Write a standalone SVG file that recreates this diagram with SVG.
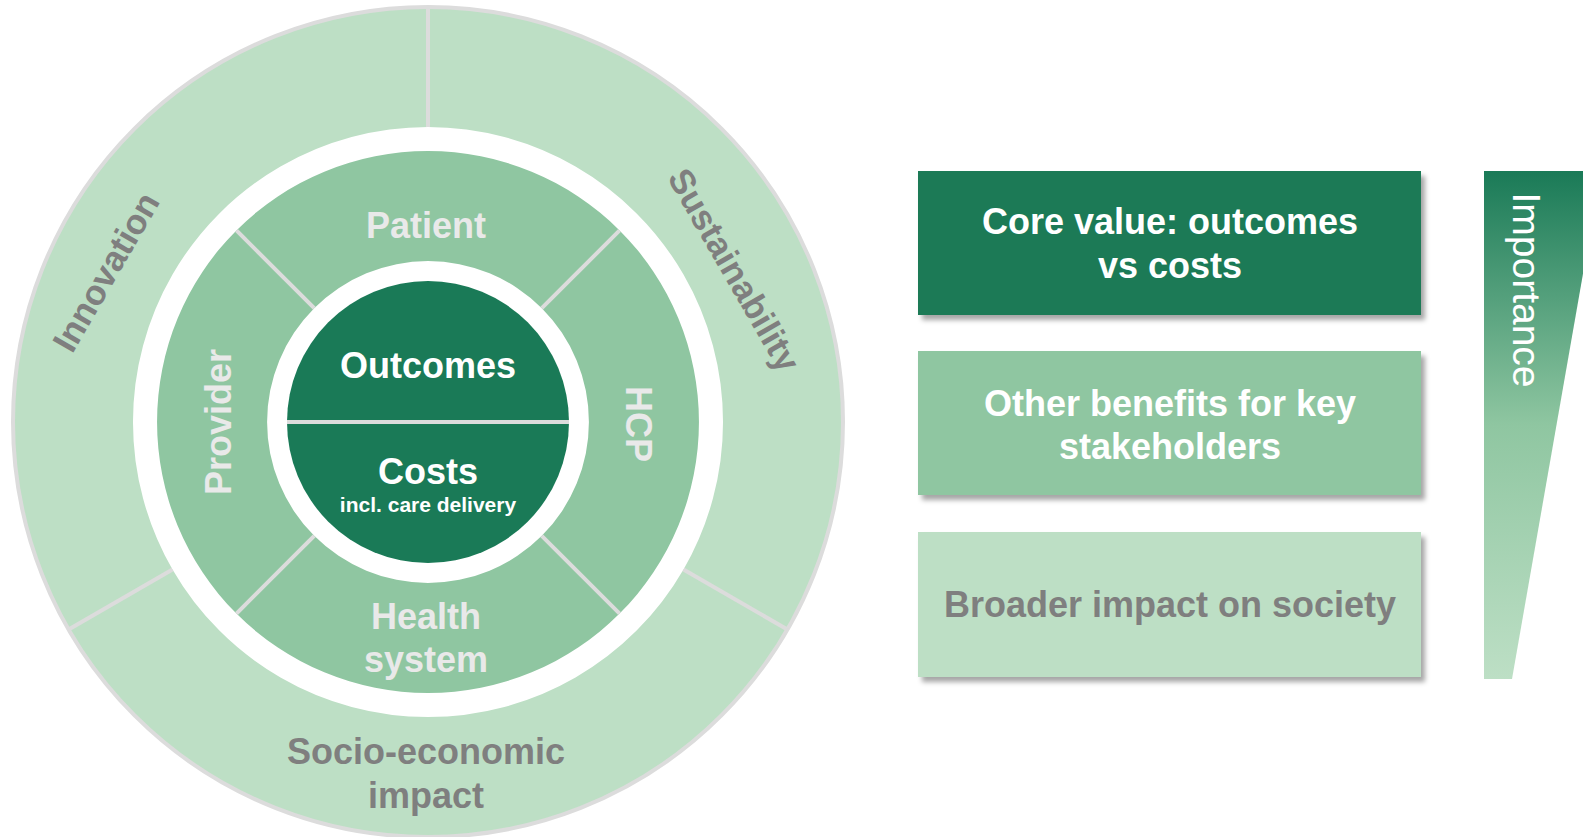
<svg xmlns="http://www.w3.org/2000/svg" width="1583" height="837" viewBox="0 0 1583 837">
  <style>
    .t { font-family: "Liberation Sans", Arial, sans-serif; font-weight: bold; text-anchor: middle; }
    .outerTxt { fill: #7f7f7f; font-size: 36px; }
    .midTxt { fill: #e9e9e9; font-size: 36px; }
    .coreTxt { fill: #ffffff; font-size: 36px; }
    .outerRing { fill: #bddfc5; }
    .midRing { fill: #8fc6a1; }
    .core { fill: #1a7a57; }
    .div { stroke: #dcdcdc; stroke-width: 4; fill: none; }
    .box1 { fill: #1a7a57; }
    .box2 { fill: #8fc6a1; }
    .box3 { fill: #bddfc5; }
  </style>
  <defs>
    <filter id="shadow" x="-5%" y="-10%" width="115%" height="130%">
      <feDropShadow dx="4" dy="5" stdDeviation="2.5" flood-color="#000000" flood-opacity="0.35"/>
    </filter>
    <linearGradient id="wedgeGrad" gradientUnits="userSpaceOnUse" x1="0" y1="171" x2="0" y2="679">
      <stop offset="0" stop-color="#1a7a57"/>
      <stop offset="0.5" stop-color="#8fc6a1"/>
      <stop offset="1" stop-color="#bddfc5"/>
    </linearGradient>
  </defs>
  <rect width="1583" height="837" fill="#ffffff"/>

  <!-- Outer ring -->
  <g id="sustainability">
    <path class="outerRing" d="M 428 7 A 415 415 0 0 1 787.4 629.5 L 683.5 569.5 A 295 295 0 0 0 428 127 Z"/>
    <text class="t outerTxt" style="font-size:35px" transform="translate(734,270) rotate(60)" y="12">Sustainability</text>
  </g>
  <g id="socio-economic">
    <path class="outerRing" d="M 787.4 629.5 A 415 415 0 0 1 68.6 629.5 L 172.5 569.5 A 295 295 0 0 0 683.5 569.5 Z"/>
    <text class="t outerTxt" x="426" y="764">Socio-economic</text>
    <text class="t outerTxt" x="426" y="808">impact</text>
  </g>
  <g id="innovation">
    <path class="outerRing" d="M 68.6 629.5 A 415 415 0 0 1 428 7 L 428 127 A 295 295 0 0 0 172.5 569.5 Z"/>
    <text class="t outerTxt" style="font-size:35px" transform="translate(106,272) rotate(-60)" y="12">Innovation</text>
  </g>

  <!-- Middle ring -->
  <g id="patient">
    <path class="midRing" d="M 236.4 230.4 A 271 271 0 0 1 619.6 230.4 L 541.8 308.2 A 161 161 0 0 0 314.2 308.2 Z"/>
    <text class="t midTxt" x="426" y="238">Patient</text>
  </g>
  <g id="hcp">
    <path class="midRing" d="M 619.6 230.4 A 271 271 0 0 1 619.6 613.6 L 541.8 535.8 A 161 161 0 0 0 541.8 308.2 Z"/>
    <text class="t midTxt" transform="translate(626,424) rotate(90)" y="0">HCP</text>
  </g>
  <g id="health-system">
    <path class="midRing" d="M 619.6 613.6 A 271 271 0 0 1 236.4 613.6 L 314.2 535.8 A 161 161 0 0 0 541.8 535.8 Z"/>
    <text class="t midTxt" x="426" y="629">Health</text>
    <text class="t midTxt" x="426" y="672">system</text>
  </g>
  <g id="provider">
    <path class="midRing" d="M 236.4 613.6 A 271 271 0 0 1 236.4 230.4 L 314.2 308.2 A 161 161 0 0 0 314.2 535.8 Z"/>
    <text class="t midTxt" transform="translate(231,422) rotate(-90)" y="0">Provider</text>
  </g>

  <!-- Core -->
  <g id="outcomes">
    <path class="core" d="M 287 422 A 141 141 0 0 1 569 422 Z"/>
    <text class="t coreTxt" x="428" y="378">Outcomes</text>
  </g>
  <g id="costs">
    <path class="core" d="M 569 422 A 141 141 0 0 1 287 422 Z"/>
    <text class="t coreTxt" x="428" y="484">Costs</text>
    <text class="t coreTxt" style="font-size:21px" x="428" y="512">incl. care delivery</text>
  </g>

  <!-- Dividers -->
  <g id="connectors">
    <circle class="div" cx="428" cy="422" r="415" stroke-width="3"/>
    <line class="div" x1="428" y1="7" x2="428" y2="127"/>
    <line class="div" x1="787.4" y1="629.5" x2="683.5" y2="569.5"/>
    <line class="div" x1="68.6" y1="629.5" x2="172.5" y2="569.5"/>
    <line class="div" x1="236.4" y1="230.4" x2="314.2" y2="308.2"/>
    <line class="div" x1="619.6" y1="230.4" x2="541.8" y2="308.2"/>
    <line class="div" x1="619.6" y1="613.6" x2="541.8" y2="535.8"/>
    <line class="div" x1="236.4" y1="613.6" x2="314.2" y2="535.8"/>
    <line class="div" x1="287" y1="422" x2="569" y2="422" stroke-width="5"/>
  </g>

  <!-- Right legend boxes -->
  <g id="core-value">
    <rect class="box1" x="918" y="171" width="503" height="144" filter="url(#shadow)"/>
    <text class="t coreTxt" x="1170" y="234">Core value: outcomes</text>
    <text class="t coreTxt" x="1170" y="278">vs costs</text>
  </g>
  <g id="other-benefits">
    <rect class="box2" x="918" y="351" width="503" height="144" filter="url(#shadow)"/>
    <text class="t coreTxt" x="1170" y="416">Other benefits for key</text>
    <text class="t coreTxt" x="1170" y="459">stakeholders</text>
  </g>
  <g id="broader-impact">
    <rect class="box3" x="918" y="532" width="503" height="145" filter="url(#shadow)"/>
    <text class="t outerTxt" x="1170" y="617">Broader impact on society</text>
  </g>

  <!-- Importance wedge -->
  <g id="importance">
    <polygon points="1484,171 1601,171 1512,679 1484,679" fill="url(#wedgeGrad)"/>
    <text transform="translate(1513,290) rotate(90)" style="font-family:'Liberation Sans', Arial, sans-serif; font-size:39px; fill:#ffffff; text-anchor:middle;">Importance</text>
  </g>
</svg>
